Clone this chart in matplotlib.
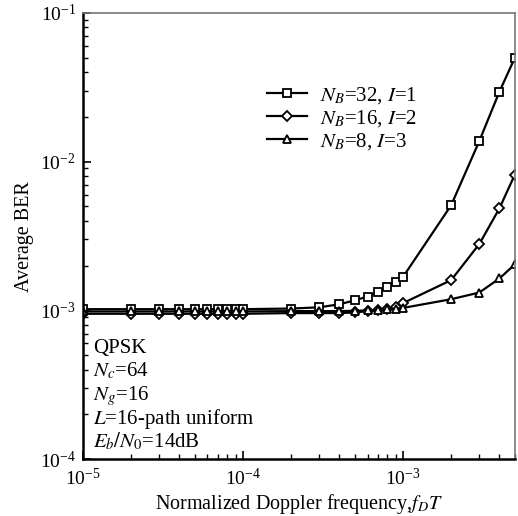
import matplotlib
matplotlib.use("Agg")
import matplotlib.pyplot as plt
from matplotlib.ticker import LogLocator, NullFormatter

plt.rcParams['font.family'] = ['Liberation Serif', 'DejaVu Serif']
plt.rcParams['mathtext.fontset'] = 'stix'

fdT = [1e-5, 2e-5, 3e-5, 4e-5, 5e-5, 6e-5, 7e-5, 8e-5, 9e-5, 1e-4,
       2e-4, 3e-4, 4e-4, 5e-4, 6e-4, 7e-4, 8e-4, 9e-4, 1e-3,
       2e-3, 3e-3, 4e-3, 5e-3]

ber_nb32 = [1.02e-3, 1.02e-3, 1.02e-3, 1.02e-3, 1.02e-3, 1.02e-3, 1.02e-3, 1.02e-3, 1.02e-3, 1.02e-3,
            1.03e-3, 1.05e-3, 1.10e-3, 1.17e-3, 1.24e-3, 1.33e-3, 1.43e-3, 1.56e-3, 1.68e-3,
            5.1e-3, 1.38e-2, 2.95e-2, 5.0e-2]
ber_nb16 = [0.95e-3, 0.95e-3, 0.95e-3, 0.95e-3, 0.95e-3, 0.95e-3, 0.95e-3, 0.95e-3, 0.95e-3, 0.95e-3,
            0.96e-3, 0.96e-3, 0.96e-3, 0.97e-3, 0.99e-3, 1.01e-3, 1.03e-3, 1.06e-3, 1.12e-3,
            1.60e-3, 2.80e-3, 4.85e-3, 8.2e-3]
ber_nb8 = [0.985e-3, 0.985e-3, 0.985e-3, 0.985e-3, 0.985e-3, 0.985e-3, 0.985e-3, 0.985e-3, 0.985e-3, 0.985e-3,
           0.99e-3, 0.99e-3, 0.99e-3, 0.995e-3, 1.0e-3, 1.01e-3, 1.02e-3, 1.03e-3, 1.04e-3,
           1.19e-3, 1.32e-3, 1.64e-3, 2.04e-3]

labels = [r'$N_B$=32, $I$=1', r'$N_B$=16, $I$=2', r'$N_B$=8, $I$=3']
markers = ['s', 'D', '^']
msizes = [5.5, 5.5, 6]

info_lines = ['QPSK', '$N_c$=64', '$N_g$=16', '$L$=16-path uniform', '$E_b/N_0$=14dB']

fig = plt.figure(figsize=(5.18, 5.16), dpi=100)
ax = fig.add_axes([0.160, 0.110, 0.834, 0.865])

for y, lab, m, ms in zip([ber_nb32, ber_nb16, ber_nb8], labels, markers, msizes):
    ax.plot(fdT, y, color='black', lw=1.6, marker=m, ms=ms, mfc='white',
            mec='black', mew=1.3, label=lab)

ax.set_xscale('log')
ax.set_yscale('log')
ax.set_xlim(1e-5, 5e-3)
ax.set_ylim(1e-4, 1e-1)

ax.xaxis.set_minor_locator(LogLocator(base=10, subs=range(2, 10), numticks=20))
ax.yaxis.set_minor_locator(LogLocator(base=10, subs=range(2, 10), numticks=20))
ax.xaxis.set_minor_formatter(NullFormatter())
ax.yaxis.set_minor_formatter(NullFormatter())

ax.tick_params(which='both', direction='in', top=False, right=False, labelsize=14)
ax.tick_params(which='major', length=6, width=1.2)
ax.tick_params(which='minor', length=3.5, width=1.0)
ax.tick_params(axis='y', pad=5)
ax.tick_params(axis='x', pad=6)

for s in ['left', 'bottom']:
    ax.spines[s].set_linewidth(1.8)
    ax.spines[s].set_color('black')
for s in ['top', 'right']:
    ax.spines[s].set_linewidth(1.2)
    ax.spines[s].set_color('#777777')

ax.set_xlabel(r'Normalized Doppler frequency,$f_DT$', fontsize=14.5, labelpad=2.5)
ax.set_ylabel('Average BER', fontsize=14.5, labelpad=4)

ax.legend(loc='upper left', bbox_to_anchor=(0.393, 0.872), frameon=False, fontsize=15,
          handlelength=1.9, handletextpad=0.65, labelspacing=0.1, borderpad=0.2)

# baselines in pixels from the axes bottom (axes height = 446 px)
baselines_px = [106, 83, 59, 35, 12]
for txt, b in zip(info_lines, baselines_px):
    ax.text(0.023, b / 446.0, txt, transform=ax.transAxes, fontsize=15,
            va='baseline', ha='left')

fig.savefig('out.png', dpi=100)
